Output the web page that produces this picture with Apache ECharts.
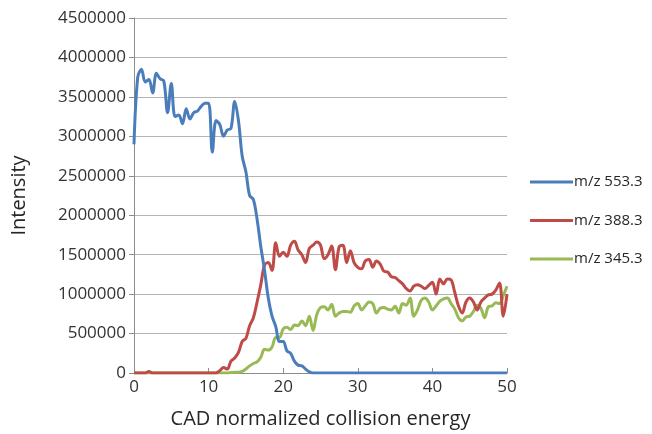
<!DOCTYPE html>
<html>
<head>
<meta charset="utf-8">
<script src="https://cdn.jsdelivr.net/npm/echarts@6/dist/echarts.min.js"></script>
<style>html,body{margin:0;padding:0;background:#fff;}#c{width:652px;height:434px;}</style>
</head>
<body>
<div id="c"></div>
<script>
var energy = [
  0,0.5,1,1.5,2,2.5,3,3.5,4,4.5,
  5,5.5,6,6.5,7,7.5,8,8.5,9,9.5,
  10,10.5,11,11.5,12,12.5,13,13.5,14,14.5,
  15,15.5,16,16.5,17,17.5,18,18.5,19,19.5,
  20,20.5,21,21.5,22,22.5,23,23.5,24,24.5,
  25,25.5,26,26.5,27,27.5,28,28.5,29,29.5,
  30,30.5,31,31.5,32,32.5,33,33.5,34,34.5,
  35,35.5,36,36.5,37,37.5,38,38.5,39,39.5,
  40,40.5,41,41.5,42,42.5,43,43.5,44,44.5,
  45,45.5,46,46.5,47,47.5,48,48.5,49,49.5,
  50
];
var mz553 = [
  2900000,3750000,3850000,3690000,3720000,3550000,3800000,3730000,3700000,3300000,
  3670000,3250000,3270000,3160000,3350000,3220000,3300000,3320000,3380000,3420000,
  3420000,2800000,3200000,3150000,3000000,3080000,3100000,3440000,3200000,2750000,
  2550000,2250000,2200000,1950000,1600000,1300000,950000,720000,590000,400000,
  400000,280000,250000,150000,100000,90000,50000,15000,0,0,
  0,0,0,0,0,0,0,0,0,0,
  0,0,0,0,0,0,0,0,0,0,
  0,0,0,0,0,0,0,0,0,0,
  0,0,0,0,0,0,0,0,0,0,
  0,0,0,0,0,0,0,0,0,0,
  0
];
var mz388 = [
  0,0,0,0,20000,0,0,0,0,0,
  0,0,0,0,0,0,0,0,0,0,
  0,0,0,30000,70000,50000,150000,190000,260000,400000,
  440000,600000,700000,900000,1120000,1370000,1400000,1300000,1650000,1480000,
  1530000,1480000,1620000,1670000,1560000,1500000,1400000,1580000,1620000,1660000,
  1620000,1450000,1500000,1610000,1310000,1600000,1620000,1400000,1550000,1400000,
  1340000,1320000,1420000,1440000,1340000,1420000,1380000,1290000,1280000,1220000,
  1210000,1170000,1130000,1070000,1040000,1100000,1120000,1100000,1070000,1110000,
  1150000,1000000,1190000,1130000,1190000,1180000,1020000,850000,760000,900000,
  950000,900000,800000,900000,950000,990000,1000000,1050000,1140000,720000,
  1000000
];
var mz345 = [
  0,0,0,0,0,0,0,0,0,0,
  0,0,0,0,0,0,0,0,0,0,
  0,0,0,0,0,0,5000,10000,10000,20000,
  50000,90000,120000,140000,200000,300000,290000,330000,450000,450000,
  560000,580000,550000,610000,600000,660000,600000,720000,540000,740000,
  830000,840000,800000,870000,720000,760000,780000,780000,770000,850000,
  880000,800000,850000,900000,880000,760000,820000,830000,810000,800000,
  845000,760000,880000,860000,950000,720000,800000,920000,950000,900000,
  800000,850000,910000,940000,950000,880000,810000,700000,660000,710000,
  720000,780000,860000,820000,700000,840000,850000,890000,880000,980000,
  1100000
];
var seriesNames = ['m/z 553.3','m/z 388.3','m/z 345.3'];
var seriesColors = ['#4A7EBB','#BE4B48','#98B954'];
var xTitle = 'CAD normalized collision energy';
var yTitle = 'Intensity';

function pairs(ys){ return energy.map(function(x,i){ return [x, ys[i]]; }); }
var allData = [mz553, mz388, mz345];
var FONT = '"Open Sans", "Noto Sans", sans-serif';

var chart = echarts.init(document.getElementById('c'), null, {renderer:'canvas'});
chart.setOption({
  animation: false,
  backgroundColor: '#ffffff',
  textStyle: {fontFamily: FONT},
  grid: {left:134, right:145, top:18, bottom:61, containLabel:false},
  legend: {
    orient: 'vertical', left: 525, top: 167,
    icon: 'rect', itemWidth: 43, itemHeight: 3, itemGap: 18.5,
    textStyle: {fontSize: 15, color: '#262626', fontFamily: FONT, padding:[0,0,0,-4], lineHeight: 20},
    data: seriesNames
  },
  xAxis: {
    type: 'value', min: 0, max: 50, interval: 10,
    name: xTitle, nameLocation: 'middle', nameGap: 36,
    nameTextStyle: {fontSize: 20, color: '#262626', fontFamily: FONT},
    axisLine: {show:true, lineStyle:{color:'#8c8c8c', width:1}},
    axisTick: {show:true, inside:true, length:5, lineStyle:{color:'#8c8c8c'}},
    axisLabel: {fontSize: 17, color: '#333', margin: 6, fontFamily: FONT},
    splitLine: {show:false}
  },
  yAxis: {
    type: 'value', min: 0, max: 4500000, interval: 500000,
    name: yTitle, nameLocation: 'middle', nameGap: 105, nameRotate: 90,
    nameTextStyle: {fontSize: 20, color: '#262626', fontFamily: FONT},
    axisLine: {show:true, lineStyle:{color:'#8c8c8c', width:1}},
    axisTick: {show:true, inside:false, length:5, lineStyle:{color:'#8c8c8c'}},
    axisLabel: {fontSize: 17, color: '#333', margin: 8, fontFamily: FONT,
      formatter: function(v){ return String(v); }},
    splitLine: {show:true, lineStyle:{color:'#b4b4b4', width:1}}
  },
  series: seriesNames.map(function(n, i){
    return {
      name: n, type: 'line', data: pairs(allData[i]),
      smooth: 0.35, showSymbol: false, symbol: 'none',
      lineStyle: {color: seriesColors[i], width: 3},
      itemStyle: {color: seriesColors[i]},
      z: 3 - i
    };
  })
});
</script>
</body>
</html>
